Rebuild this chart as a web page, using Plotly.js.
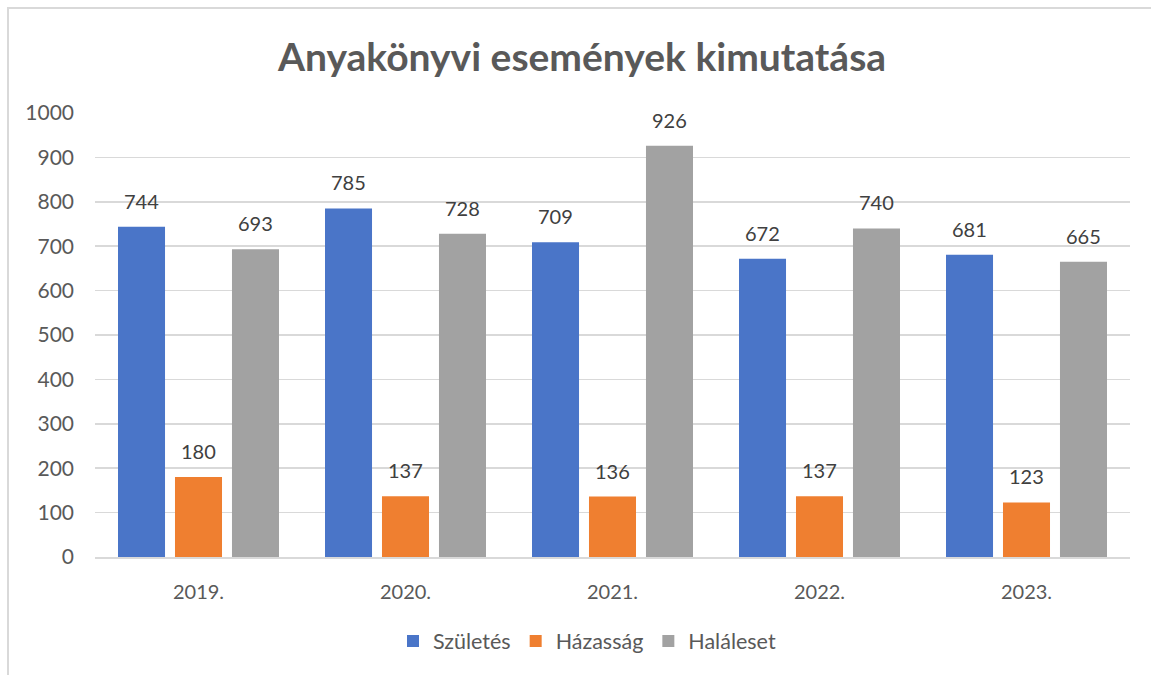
<!DOCTYPE html>
<html>
<head>
<meta charset="utf-8">
<script src="https://cdn.plot.ly/plotly-3.0.1.min.js"></script>
<style>
  html, body { margin: 0; padding: 0; background: #ffffff; }
  #frame { position: absolute; left: 7px; top: 7px; width: 1160px; height: 700px; border: 2px solid #d9d9d9; box-sizing: border-box; }
  #chart { position: absolute; left: 0; top: 0; width: 1151px; height: 675px; }
</style>
</head>
<body>
<div id="frame"></div>
<div id="chart"></div>
<script>
const years = ["2019.", "2020.", "2021.", "2022.", "2023."];
const szuletes = [744, 785, 709, 672, 681];
const hazassag = [180, 137, 136, 137, 123];
const halaleset = [693, 728, 926, 740, 665];
const seriesNames = ["Születés", "Házasság", "Haláleset"];
const seriesColors = ["#4a75c8", "#ef7f30", "#a2a2a2"];
const seriesValues = [szuletes, hazassag, halaleset];

const FONT = "Lato, 'Noto Sans', sans-serif";

const traces = seriesValues.map((vals, i) => ({
  type: "bar",
  name: seriesNames[i],
  x: years,
  y: vals,
  marker: { color: seriesColors[i] },
  hoverinfo: "x+y+name"
}));

// data labels as annotations above each bar (x given as category index)
const offsets = [-57, 0, 57];
const annotations = [];
seriesValues.forEach((vals, i) => {
  vals.forEach((v, j) => {
    annotations.push({
      x: j, y: v, xref: "x", yref: "y",
      text: String(v), showarrow: false,
      xshift: offsets[i], yshift: 12, yanchor: "bottom",
      font: { family: FONT, size: 20, color: "#404040" }
    });
  });
});

const layout = {
  width: 1151, height: 675,
  paper_bgcolor: "rgba(0,0,0,0)",
  plot_bgcolor: "rgba(0,0,0,0)",
  margin: { l: 95, r: 21, t: 113, b: 118 },
  barmode: "group",
  bargap: 0.174,
  bargroupgap: 0.175,
  title: {
    text: "<b>Anyakönyvi események kimutatása</b>",
    x: 582 / 1151, xref: "container", xanchor: "center",
    y: 1 - 57 / 675, yref: "container", yanchor: "middle",
    font: { family: FONT, size: 39, color: "#595959" }
  },
  xaxis: {
    type: "category",
    categoryorder: "array", categoryarray: years,
    range: [-0.5, years.length - 0.5],
    tickfont: { family: FONT, size: 20, color: "#595959" },
    showgrid: false,
    showline: true, linecolor: "#d9d9d9", linewidth: 2,
    ticks: "", ticklabelstandoff: 16,
    fixedrange: true
  },
  yaxis: {
    range: [0, 1000],
    dtick: 100,
    tickfont: { family: FONT, size: 21, color: "#595959" },
    gridcolor: "#d9d9d9", gridwidth: 1.5,
    zeroline: false,
    showline: false,
    ticks: "", ticklabelstandoff: 20,
    fixedrange: true
  },
  showlegend: true,
  legend: {
    orientation: "h",
    x: 587 / 1151, xref: "container", xanchor: "center",
    y: 1 - 641 / 675, yref: "container", yanchor: "middle",
    font: { family: FONT, size: 21.5, color: "#595959" },
    itemwidth: 30,
    traceorder: "normal"
  },
  annotations: annotations
};

Plotly.newPlot("chart", traces, layout, { displayModeBar: false, staticPlot: true });
</script>
</body>
</html>
